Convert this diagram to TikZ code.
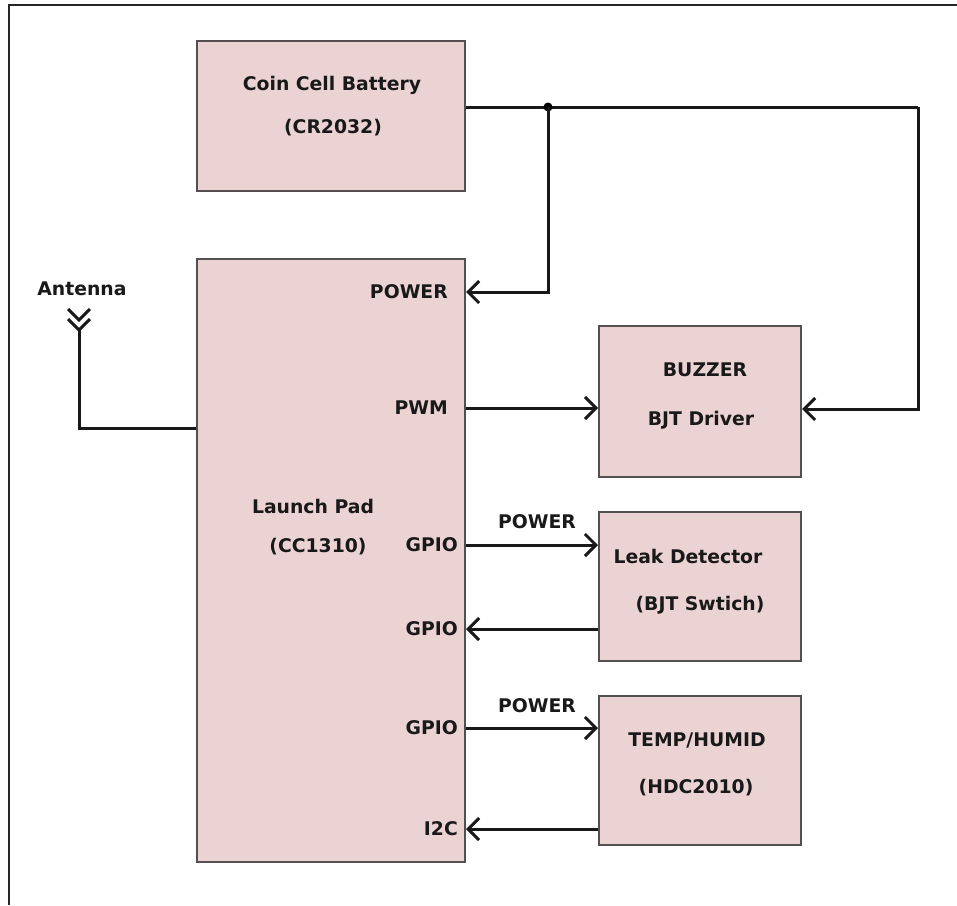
\documentclass[tikz,border=0pt]{standalone}
\usepackage{fontspec}
\setmainfont{DejaVu Sans}
\usetikzlibrary{arrows.meta}
\definecolor{boxfill}{RGB}{236,211,211}
\definecolor{boxline}{RGB}{85,80,80}
\tikzset{
  blk/.style={draw=boxline, line width=2pt, fill=boxfill, rectangle, inner sep=0pt},
  lbl/.style={font=\fontsize{18.8}{21}\selectfont\bfseries, text=black!90, inner sep=0pt},
  wire/.style={line width=3pt, black!90},
  arr/.style={wire, -{Straight Barb[length=11pt,width=22pt]}},
}
\begin{document}
\begin{tikzpicture}[x=1pt,y=-1pt]
\useasboundingbox (0,0) rectangle (957,905);
% frame
\draw[line width=2.5pt, black!85] (9,905) -- (9,5) -- (957,5);
% blocks
\node[blk, minimum width=268pt, minimum height=150pt] (bat) at (331,116) {};
\node[blk, minimum width=268pt, minimum height=603pt] (lp) at (331,560.5) {};
\node[blk, minimum width=202pt, minimum height=151pt] (buz) at (700,401.5) {};
\node[blk, minimum width=202pt, minimum height=149pt] (leak) at (700,586.5) {};
\node[blk, minimum width=202pt, minimum height=149pt] (temp) at (700,770.5) {};
% block texts
\node[lbl] (t1) at (332,85) {Coin Cell Battery};
\node[lbl] (t2) at (333,128) {(CR2032)};
\node[lbl] (t3) at (313,506) {Launch Pad};
\node[lbl] (t4) at (318,547) {(CC1310)};
\node[lbl] (t5) at (705,370) {BUZZER};
\node[lbl] (t6) at (701,420) {BJT Driver};
\node[lbl] (t7) at (688,556) {Leak Detector};
\node[lbl] (t8) at (700,605) {(BJT Swtich)};
\node[lbl] (t9) at (697,741) {TEMP/HUMID};
\node[lbl] (t10) at (696,788) {(HDC2010)};
% pin labels
\node[lbl, anchor=east] (pPow) at (448,292) {POWER};
\node[lbl, anchor=east] (pPwm) at (448,408) {PWM};
\node[lbl, anchor=east] (pG1) at (458,545) {GPIO};
\node[lbl, anchor=east] (pG2) at (458,629) {GPIO};
\node[lbl, anchor=east] (pG3) at (458,728) {GPIO};
\node[lbl, anchor=east] (pI2c) at (458,829) {I2C};
\node[lbl] (w1) at (537,522) {POWER};
\node[lbl] (w2) at (537,706) {POWER};
\node[lbl] (ant) at (82,289) {Antenna};
% coordinates
\coordinate (j) at (548,107);
\coordinate (r) at (918,107);
\coordinate (a1) at (79,330);
\coordinate (a0) at (79,428);
% battery wiring
\draw[wire] (bat.east |- j) -- (r);
\fill (j) circle (4.5pt);
\draw[arr] (j) |- (lp.east |- pPow);
\draw[arr] (r) |- ([yshift=-7.5pt]buz.east);
% PWM
\draw[arr] (lp.east |- pPwm) -- (buz.west |- pPwm);
% leak
\draw[arr] (lp.east |- pG1) -- (leak.west |- pG1);
\draw[arr] (leak.west |- pG2) -- (lp.east |- pG2);
% temp
\draw[arr] (lp.east |- pG3) -- (temp.west |- pG3);
\draw[arr] (temp.west |- pI2c) -- (lp.east |- pI2c);
% antenna
\draw[wire] (lp.west |- a0) -- (a0) -- (a1);
\draw[wire, line join=miter] (68,309) -- (79,320) -- (90,309);
\draw[wire, line join=miter] (68,319) -- (79,330) -- (90,319);
\end{tikzpicture}
\end{document}
